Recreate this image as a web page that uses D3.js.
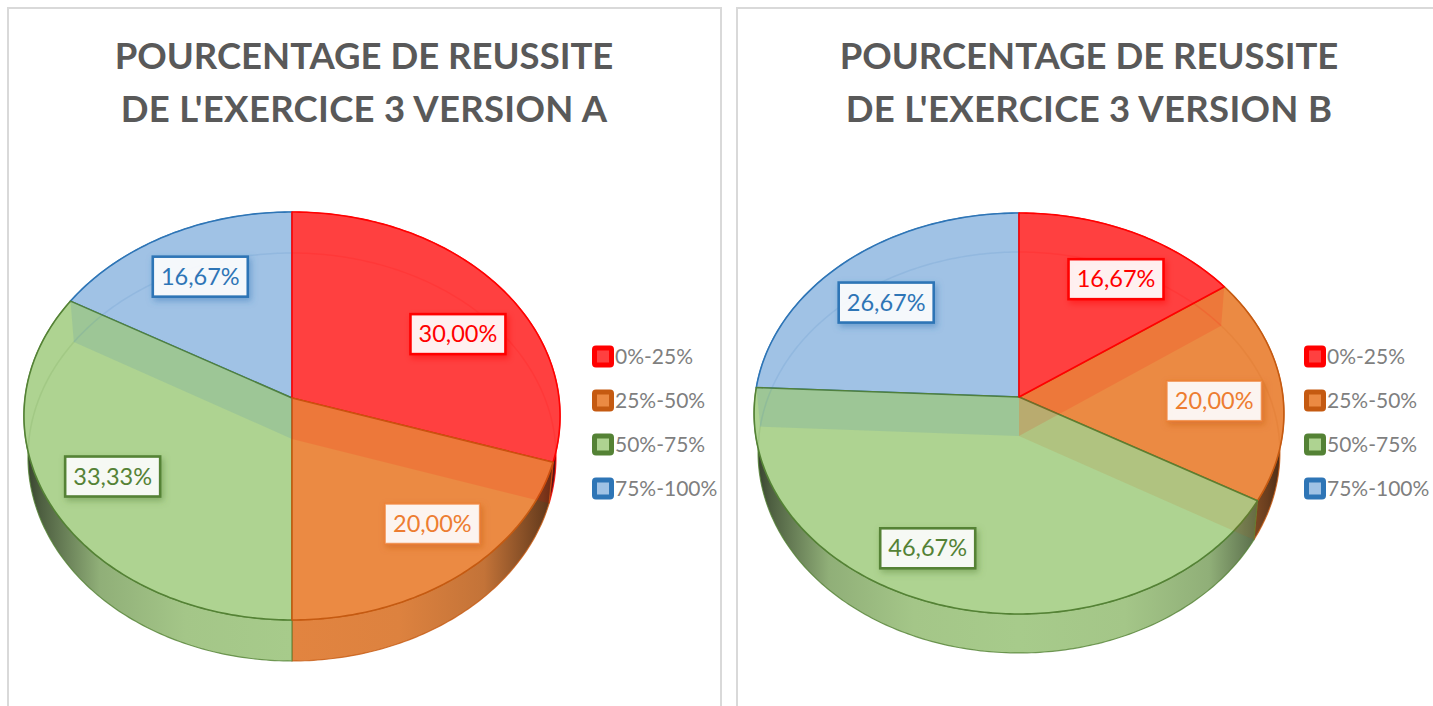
<!DOCTYPE html>
<html>
<head>
<meta charset="utf-8">
<script src="https://cdnjs.cloudflare.com/ajax/libs/d3/7.8.5/d3.min.js"></script>
<style>
html, body { margin: 0; padding: 0; background: #fff; overflow: hidden; }
text { font-family: Lato, Carlito, sans-serif; }
</style>
</head>
<body>
<script>
// Chart data
var categories = ["0%-25%", "25%-50%", "50%-75%", "75%-100%"];
var valuesA = [30.00, 20.00, 33.33, 16.67];
var valuesB = [16.67, 20.00, 46.67, 26.67];
var titleA = ["POURCENTAGE DE REUSSITE", "DE L'EXERCICE 3 VERSION A"];
var titleB = ["POURCENTAGE DE REUSSITE", "DE L'EXERCICE 3 VERSION B"];

// Colours for each category
var lineColors = ["#ff0000", "#c55a11", "#548235", "#2e75b6"];
var faceColors = ["#ff4040", "#eb8a43", "#aed391", "#a0c2e5"];
var labelColors = ["#ff0000", "#ed7d31", "#548235", "#2e75b6"];

var w = 1433, h = 706;

var svg = d3.select("body").append("svg")
    .attr("width", w)
    .attr("height", h);

var defs = svg.append("defs");

// comma as decimal mark, like the original
var fr = d3.formatLocale({decimal: ",", thousands: " ", grouping: [3], currency: ["", "€"]});
var fmt = fr.format(".2f");

var pie = d3.pie().sort(null).value(function(d) { return d; });
var line = d3.line();

function drawChart(cfg) {
    var g = svg.append("g");

    // Panel border
    g.append("rect")
        .attr("x", cfg.panel[0]).attr("y", 8)
        .attr("width", cfg.panel[1]).attr("height", h + 20)
        .attr("fill", "#fff")
        .attr("stroke", "#d9d9d9")
        .attr("stroke-width", 2);

    // Title
    cfg.title.forEach(function(t, i) {
        g.append("text")
            .attr("x", cfg.titleX)
            .attr("y", 69 + i * 53)
            .attr("text-anchor", "middle")
            .attr("font-size", 36.5)
            .attr("font-weight", 700)
            .attr("letter-spacing", i === 1 ? 0.3 : 0)
            .attr("fill", "#595959")
            .text(t);
    });

    // Perspective: disc point at angle a -> screen. Near side of the disc looks bigger
    function rim(a, r, base) {
        var rr = r === undefined ? 1 : r;
        var u = rr * Math.sin(a), v = -rr * Math.cos(a);
        var den = 1 + cfg.k * v;
        var sx = base ? 0.985 : 1;
        return [
            cfg.cx + sx * cfg.c * u / den,
            cfg.cy + (base ? cfg.depth : 0) + cfg.a * v / den
        ];
    }

    function arcPoints(a0, a1, base) {
        var n = Math.max(2, Math.ceil(Math.abs(a1 - a0) / 0.015));
        return d3.range(n + 1).map(function(i) {
            return rim(a0 + (a1 - a0) * i / n, 1, base);
        });
    }

    var slices = pie(cfg.values);
    var left = cfg.cx - cfg.c, right = cfg.cx + cfg.c;

    // Side wall gradient, dark at both edges
    slices.forEach(function(s, i) {
        var id = "side" + cfg.id + i;
        var grad = defs.append("linearGradient")
            .attr("id", id)
            .attr("gradientUnits", "userSpaceOnUse")
            .attr("x1", left).attr("x2", right)
            .attr("y1", 0).attr("y2", 0);
        var mix = d3.interpolateRgb(faceColors[i], "#000");
        [[0, 0.7], [0.03, 0.55], [0.14, 0.17], [0.3, 0.06], [0.5, 0.04], [0.7, 0.06], [0.86, 0.17], [0.97, 0.55], [1, 0.7]]
            .forEach(function(st) {
                grad.append("stop").attr("offset", st[0]).attr("stop-color", mix(st[1]));
            });
    });

    // Side wall
    slices.forEach(function(s, i) {
        var pts = arcPoints(s.startAngle, s.endAngle).concat(arcPoints(s.endAngle, s.startAngle, true));
        g.append("path")
            .attr("d", line(pts) + "Z")
            .attr("fill", "url(#side" + cfg.id + i + ")")
            .attr("stroke", lineColors[i])
            .attr("stroke-width", 1.2)
            .attr("stroke-opacity", 0.8);
    });

    // Top face
    var clipId = "face" + cfg.id;
    defs.append("clipPath").attr("id", clipId)
        .append("path")
        .attr("d", line(arcPoints(0, 2 * Math.PI)) + "Z");

    cfg.order.forEach(function(i) {
        var s = slices[i];
        g.append("path")
            .attr("d", line([[cfg.cx, cfg.cy]].concat(arcPoints(s.startAngle, s.endAngle))) + "Z")
            .attr("fill", faceColors[i])
            .attr("stroke", lineColors[i])
            .attr("stroke-width", 1.6)
            .attr("stroke-linejoin", "round");
    });

    // Inner walls seen through the translucent top
    slices.forEach(function(s, i) {
        var a = s.startAngle;
        var n = slices.length;
        var prev = (i + n - 1) % n, next = i;
        var tint = a < Math.PI ? prev : next;
        var base = [cfg.cx, cfg.cy + cfg.depth];
        g.append("path")
            .attr("d", line([[cfg.cx, cfg.cy], rim(a), rim(a, 1, true), base]) + "Z")
            .attr("fill", lineColors[tint])
            .attr("fill-opacity", 0.13)
            .attr("stroke", "none");
    });

    // Far rim of the base, faintly visible through the top
    slices.forEach(function(s, i) {
        g.append("path")
            .attr("d", line(arcPoints(s.startAngle, s.endAngle, true)))
            .attr("fill", "none")
            .attr("clip-path", "url(#" + clipId + ")")
            .attr("stroke", lineColors[i])
            .attr("stroke-opacity", 0.12)
            .attr("stroke-width", 1.5);
    });

    // Data labels: mid angle of each slice at 3/4 radius, plus the nudge
    slices.forEach(function(s, i) {
        var p = rim((s.startAngle + s.endAngle) / 2, 0.75);
        var x = p[0] + cfg.nudge[i][0], y = p[1] + cfg.nudge[i][1];
        var fid = "shadow" + cfg.id + i;
        var f = defs.append("filter").attr("id", fid)
            .attr("x", "-30%").attr("y", "-40%").attr("width", "160%").attr("height", "190%");
        f.append("feDropShadow")
            .attr("dx", 2).attr("dy", 3).attr("stdDeviation", 3)
            .attr("flood-color", lineColors[i]).attr("flood-opacity", 0.5);
        g.append("rect")
            .attr("x", x - 47.5).attr("y", y - 20)
            .attr("width", 95).attr("height", 40)
            .attr("fill", "#fff")
            .attr("fill-opacity", 0.9)
            .attr("stroke", labelColors[i])
            .attr("stroke-width", i === 1 ? 2 : 2.6)
            .attr("stroke-opacity", i === 1 ? 0.75 : 1)
            .attr("filter", "url(#" + fid + ")");
        g.append("text")
            .attr("x", x).attr("y", y + 8)
            .attr("text-anchor", "middle")
            .attr("font-size", 23.5)
            .attr("fill", labelColors[i])
            .text(fmt(s.data) + "%");
    });

    // Legend
    categories.forEach(function(c, i) {
        var y = 356.5 + i * 44;
        g.append("rect")
            .attr("x", cfg.legendX + 2.5).attr("y", y - 8.5)
            .attr("width", 17).attr("height", 17)
            .attr("rx", 1.5)
            .attr("fill", faceColors[i])
            .attr("stroke", lineColors[i])
            .attr("stroke-width", 5);
        g.append("text")
            .attr("x", cfg.legendX + 23).attr("y", y + 7)
            .attr("font-size", 21)
            .attr("fill", "#7f7f7f")
            .text(c);
    });
}

drawChart({
    id: "A", values: valuesA, title: titleA,
    panel: [8, 713], titleX: 364,
    cx: 292, cy: 398, c: 267, a: 202.4, k: -0.0882, depth: 41,
    legendX: 592,
    order: [3, 2, 0, 1],
    nudge: [[10, 22], [16, -4], [0, 0], [3, 3]]
});

drawChart({
    id: "B", values: valuesB, title: titleB,
    panel: [737, 720], titleX: 1089,
    cx: 1019, cy: 397, c: 264, a: 199.1, k: -0.0823, depth: 39,
    legendX: 1304,
    order: [3, 1, 2, 0],
    nudge: [[11, 8], [-2, 11], [-32, -1], [-2, 9]]
});
</script>
</body>
</html>
